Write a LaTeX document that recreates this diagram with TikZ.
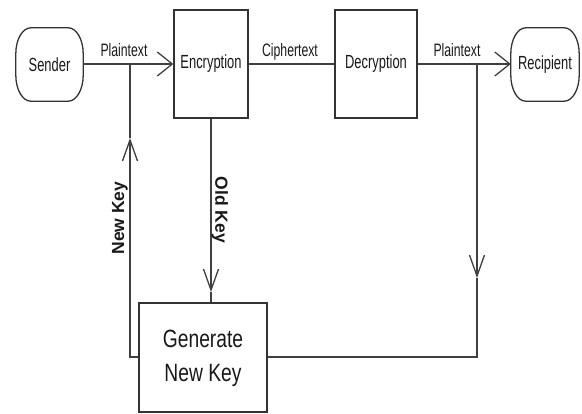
\documentclass[tikz,border=0pt]{standalone}
\usepackage{fontspec}
\setmainfont{Liberation Sans}
\usepackage{graphicx}
\usetikzlibrary{arrows.meta}
\newcommand{\nt}[1]{\scalebox{0.68}[1]{#1}}
\newcommand{\stadium}[1]{%
  \draw[termline] ([xshift=15pt]#1.north west) -- ([xshift=-15pt]#1.north east)
    arc[start angle=90,end angle=0,x radius=15pt,y radius=26pt]
    -- ([yshift=26pt]#1.south east)
    arc[start angle=0,end angle=-90,x radius=15pt,y radius=26pt]
    -- ([xshift=15pt]#1.south west)
    arc[start angle=-90,end angle=-180,x radius=15pt,y radius=26pt]
    -- ([yshift=-26pt]#1.north west)
    arc[start angle=180,end angle=90,x radius=15pt,y radius=26pt] -- cycle;}
\begin{document}
\begin{tikzpicture}[x=1pt,y=-1pt,
  line/.style={draw=black!75, line width=1.3pt},
  termline/.style={draw=black!80, line width=1.3pt},
  harr/.style={-{Straight Barb[length=15pt,width=24pt,line width=1.3pt]}},
  varr/.style={-{Straight Barb[length=21pt,width=15pt,line width=1.3pt]}},
  term/.style={inner sep=0pt, font=\fontsize{19}{22}\selectfont, text=black!90},
  proc/.style={draw=black!80, line width=1.3pt, inner sep=0pt,
    font=\fontsize{19}{22}\selectfont, text=black!90},
  lbl/.style={font=\fontsize{18}{22}\selectfont, text=black!90, inner sep=0pt, anchor=base},
  rlbl/.style={font=\fontsize{17.5}{22}\selectfont\bfseries, text=black!90, inner sep=0pt}
]
\useasboundingbox (0,0) rectangle (582,414);
\node[term, minimum width=67pt, minimum height=73pt] (sender) at (49.5,64.5) {\nt{Sender}};
\node[proc, minimum width=74pt, minimum height=108pt] (enc) at (211,64) {\nt{Encryption}};
\node[proc, minimum width=82pt, minimum height=108pt] (dec) at (376,64) {\nt{Decryption}};
\node[term, minimum width=68pt, minimum height=73pt] (rec) at (545,64.5) {\nt{Recipient}};
\node[proc, minimum width=128pt, minimum height=109pt, font=\fontsize{25}{36}\selectfont] (gen) at (203,357.5)
  {\scalebox{0.77}[1]{\begin{tabular}{@{}c@{}}Generate\\[-2pt]New Key\end{tabular}}};
\stadium{sender}
\stadium{rec}

\coordinate (j1) at (130,64);
\coordinate (j2) at (477,64);
\coordinate (nk) at (130,138);
\coordinate (ok) at (211,292);
\coordinate (rk) at (477,278);
\coordinate (gl) at (130,357);
\coordinate (gr) at (477,357);

\draw[line, harr] (sender.east |- j1) -- (enc.west |- j1);
\draw[line] (enc.east |- j1) -- (dec.west |- j1);
\draw[line, harr] (dec.east |- j1) -- (rec.west |- j1);

\draw[line, varr] (gen.west |- gl) -- (gl) -- (nk);
\draw[line] (nk) -- (j1);
\draw[line, varr] (enc.south -| ok) -- (ok);
\draw[line] (ok) -- (ok |- gen.north);
\draw[line, varr] (j2) -- (rk);
\draw[line] (rk) -- (gr) -- (gen.east |- gr);

\node[lbl] (pt1) at (124,57) {\nt{Plaintext}};
\node[lbl] (ct) at (290,57) {\nt{Ciphertext}};
\node[lbl] (pt2) at (457,57) {\nt{Plaintext}};
\node[rlbl, rotate=90] (nkl) at (120,218) {New Key};
\node[rlbl, rotate=-90] (okl) at (220,210) {Old Key};
\end{tikzpicture}
\end{document}
